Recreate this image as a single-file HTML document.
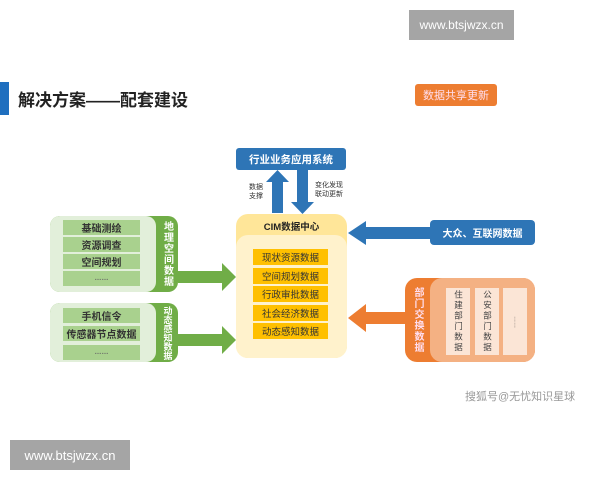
<!DOCTYPE html>
<html><head><meta charset="utf-8"><style>
body{margin:0;width:600px;height:480px;background:#fff;position:relative;overflow:hidden;font-family:"Liberation Sans","Noto Sans CJK SC",sans-serif}
.a{position:absolute;box-sizing:border-box}
.c{display:flex;align-items:center;justify-content:center;text-align:center}
.gi{background:#a9d18e;color:#333;font-size:10px;font-weight:bold;left:63px;width:77px;height:15px}
.oi{background:#ffc000;color:#333;font-size:9.5px;left:253px;width:75px;height:16px}
.v{writing-mode:vertical-rl;white-space:nowrap}
.col{background:#fbe5d6;color:#444;font-size:8.5px;width:24px;top:288px;height:67px;writing-mode:vertical-rl;white-space:nowrap;letter-spacing:2px;line-height:9px}
</style></head><body>
<div class="a c" style="left:409px;top:10px;width:105px;height:30px;background:#a5a5a5;color:#fff;font-size:12px">www.btsjwzx.cn</div>
<div class="a" style="left:0;top:82px;width:9px;height:33px;background:#1f6fbf"></div>
<div class="a" style="left:18px;top:86px;font-size:17px;font-weight:bold;color:#222">解决方案——配套建设</div>
<div class="a c" style="left:415px;top:84px;width:82px;height:22px;background:#ed7d31;color:#fde;font-size:11px;border-radius:3px">数据共享更新</div>

<div class="a c" style="left:236px;top:148px;width:110px;height:22px;background:#2e75b6;color:#fff;font-size:10.5px;font-weight:bold;border-radius:3px">行业业务应用系统</div>
<svg class="a" style="left:0;top:0" width="600" height="480">
<polygon points="272,213 272,182 266,182 277.5,170 289,182 283,182 283,213" fill="#2e75b6"/>
<polygon points="297,170 297,202 291,202 302.5,214 314,202 308,202 308,170" fill="#2e75b6"/>
<polygon points="430,227 366,227 366,221 348,233 366,245 366,239 430,239" fill="#2e75b6"/>
<polygon points="178,271 222,271 222,263 236,277 222,291 222,283 178,283" fill="#70ad47"/>
<polygon points="178,334 222,334 222,326 236,340 222,354 222,346 178,346" fill="#70ad47"/>
<polygon points="408,312 366,312 366,304 348,318 366,332 366,324 408,324" fill="#ed7d31"/>
</svg>
<div class="a" style="left:249px;top:183px;font-size:7px;color:#333;line-height:9px">数据<br>支撑</div>
<div class="a" style="left:315px;top:181px;font-size:7px;color:#333;line-height:9px">变化发现<br>联动更新</div>

<div class="a" style="left:236px;top:214px;width:111px;height:144px;background:#ffe699;border-radius:12px"></div>
<div class="a" style="left:236px;top:235px;width:111px;height:123px;background:#fff2cc;border-radius:12px"></div>
<div class="a c" style="left:236px;top:218px;width:111px;height:16px;font-size:9.5px;font-weight:bold;color:#222">CIM数据中心</div>
<div class="a c oi" style="top:249px">现状资源数据</div>
<div class="a c oi" style="top:268px">空间规划数据</div>
<div class="a c oi" style="top:286px">行政审批数据</div>
<div class="a c oi" style="top:305px">社会经济数据</div>
<div class="a c oi" style="top:323px">动态感知数据</div>

<div class="a" style="left:50px;top:216px;width:128px;height:76px;background:#70ad47;border-radius:10px"></div>
<div class="a" style="left:50px;top:216px;width:106px;height:76px;background:#e2efda;border-radius:10px"></div>
<div class="a c gi" style="top:220px">基础测绘</div>
<div class="a c gi" style="top:237px">资源调查</div>
<div class="a c gi" style="top:254px">空间规划</div>
<div class="a c gi" style="top:271px;font-size:7px;color:#666">……</div>
<div class="a c v" style="left:156px;top:218px;width:22px;height:72px;color:#fff;font-size:10px;font-weight:bold;letter-spacing:1px">地理空间数据</div>

<div class="a" style="left:50px;top:303px;width:128px;height:59px;background:#70ad47;border-radius:10px"></div>
<div class="a" style="left:50px;top:303px;width:106px;height:59px;background:#e2efda;border-radius:10px"></div>
<div class="a c gi" style="top:308px">手机信令</div>
<div class="a c gi" style="top:326px">传感器节点数据</div>
<div class="a c gi" style="top:345px;font-size:7px;color:#666">……</div>
<div class="a c v" style="left:156px;top:303px;width:22px;height:59px;color:#fff;font-size:9px;font-weight:bold;line-height:9px">动态感知数据</div>

<div class="a c" style="left:430px;top:220px;width:105px;height:25px;background:#2e75b6;color:#fff;font-size:10px;font-weight:bold;border-radius:4px">大众、互联网数据</div>

<div class="a" style="left:405px;top:278px;width:130px;height:84px;background:#ed7d31;border-radius:12px"></div>
<div class="a" style="left:430px;top:278px;width:105px;height:84px;background:#f4b183;border-radius:12px"></div>
<div class="a c v" style="left:405px;top:280px;width:25px;height:80px;color:#fde;font-size:10px;font-weight:bold;letter-spacing:1px">部门交换数据</div>
<div class="a c col" style="left:446px">住建部门数据</div>
<div class="a c col" style="left:475px">公安部门数据</div>
<div class="a c col" style="left:503px;font-size:6px;letter-spacing:0">……</div>

<div class="a" style="left:465px;top:388px;font-size:11px;color:#999">搜狐号@无忧知识星球</div>
<div class="a c" style="left:10px;top:440px;width:120px;height:30px;background:#a5a5a5;color:#fff;font-size:13px">www.btsjwzx.cn</div>
</body></html>
